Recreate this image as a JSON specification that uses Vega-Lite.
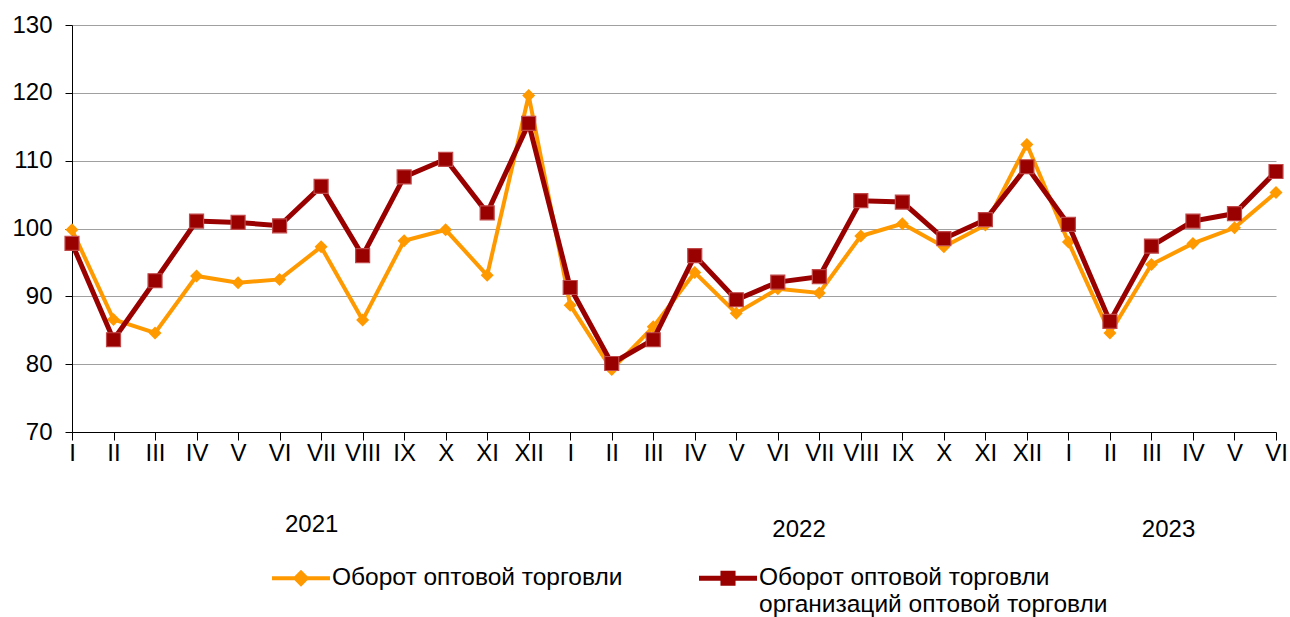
{
  "$schema": "https://vega.github.io/schema/vega-lite/v6.json",
  "width": 1204,
  "height": 407,
  "autosize": "none",
  "padding": {"left": 72, "top": 25, "right": 14, "bottom": 185},
  "background": "white",
  "config": {
    "view": {"stroke": null},
    "font": "Liberation Sans",
    "style": {"guide-label": {"lineHeight": 27}},
    "axis": {
      "labelFont": "Liberation Sans",
      "labelFontSize": 24,
      "labelColor": "black",
      "domainColor": "black",
      "tickColor": "black",
      "gridColor": "#a0a0a0",
      "gridWidth": 1.2
    },
    "legend": {
      "title": null,
      "orient": "none",
      "legendX": 200,
      "legendY": 524,
      "direction": "horizontal",
      "columns": 2,
      "columnPadding": 76,
      "symbolSize": 3364,
      "symbolStrokeWidth": 0,
      "symbolOpacity": 1,
      "labelFont": "Liberation Sans",
      "labelFontSize": 24.5,
      "labelColor": "black",
      "labelOffset": 2,
      "labelBaseline": "middle",
      "labelLimit": 0
    }
  },
  "data": {
    "values": [
      {"n": 0, "a": 99.8, "b": 97.8},
      {"n": 1, "a": 86.6, "b": 83.6},
      {"n": 2, "a": 84.6, "b": 92.3},
      {"n": 3, "a": 93.0, "b": 101.1},
      {"n": 4, "a": 92.0, "b": 100.9},
      {"n": 5, "a": 92.5, "b": 100.4},
      {"n": 6, "a": 97.3, "b": 106.2},
      {"n": 7, "a": 86.5, "b": 96.0},
      {"n": 8, "a": 98.2, "b": 107.6},
      {"n": 9, "a": 99.8, "b": 110.2},
      {"n": 10, "a": 93.1, "b": 102.3},
      {"n": 11, "a": 119.6, "b": 115.5},
      {"n": 12, "a": 88.7, "b": 91.3},
      {"n": 13, "a": 79.2, "b": 80.1},
      {"n": 14, "a": 85.5, "b": 83.6},
      {"n": 15, "a": 93.5, "b": 96.0},
      {"n": 16, "a": 87.5, "b": 89.5},
      {"n": 17, "a": 91.1, "b": 92.1},
      {"n": 18, "a": 90.5, "b": 92.9},
      {"n": 19, "a": 98.9, "b": 104.1},
      {"n": 20, "a": 100.7, "b": 103.9},
      {"n": 21, "a": 97.3, "b": 98.5},
      {"n": 22, "a": 100.5, "b": 101.3},
      {"n": 23, "a": 112.4, "b": 109.1},
      {"n": 24, "a": 98.0, "b": 100.6},
      {"n": 25, "a": 84.6, "b": 86.3},
      {"n": 26, "a": 94.7, "b": 97.4},
      {"n": 27, "a": 97.8, "b": 101.1},
      {"n": 28, "a": 100.1, "b": 102.2},
      {"n": 29, "a": 105.3, "b": 108.4}
    ]
  },
  "transform": [{"fold": ["a", "b"], "as": ["s", "v"]}],
  "resolve": {"axis": {"x": "independent"}},
  "layer": [
    {
      "transform": [{"filter": "datum.s == 'a'"}],
      "mark": {"type": "line", "strokeWidth": 4},
      "encoding": {
        "x": {
          "field": "n", "type": "quantitative",
          "scale": {"domain": [0, 29], "nice": false, "zero": false},
          "axis": {
            "orient": "bottom",
            "values": [0,1,2,3,4,5,6,7,8,9,10,11,12,13,14,15,16,17,18,19,20,21,22,23,24,25,26,27,28,29],
            "labelExpr": "['I','II','III','IV','V','VI','VII','VIII','IX','X','XI','XII'][datum.value % 12]",
            "title": null, "grid": false, "tickSize": 8, "labelPadding": 1,
            "labelFlush": false, "labelOverlap": false, "labelBound": false
          }
        },
        "y": {
          "field": "v", "type": "quantitative",
          "scale": {"domain": [70, 130], "nice": false, "zero": false},
          "axis": {
            "values": [70, 80, 90, 100, 110, 120, 130],
            "title": null, "grid": true, "tickSize": 7, "labelPadding": 13
          }
        },
        "color": {
          "field": "s", "type": "nominal",
          "scale": {"domain": ["a", "b"], "range": ["#FF9900", "#990000"]},
          "legend": {
            "labelExpr": "datum.value == 'a' ? ['Оборот оптовой торговли', ''] : ['Оборот оптовой торговли', 'организаций оптовой торговли']"
          }
        }
      }
    },
    {
      "transform": [{"filter": "datum.s == 'a'"}],
      "mark": {"type": "point", "shape": "diamond", "filled": true, "opacity": 1, "size": 169},
      "encoding": {
        "x": {
          "field": "n", "type": "quantitative",
          "axis": {
            "orient": "bottom",
            "values": [5.76, 17.5, 26.4],
            "labelExpr": "datum.value < 12 ? '2021' : datum.value < 24 ? '2022' : '2023'",
            "title": null, "grid": false, "ticks": false, "domain": false,
            "labelPadding": {"condition": {"test": "datum.value < 12", "value": 80}, "value": 85},
            "labelFlush": false, "labelOverlap": false, "labelBound": false
          }
        },
        "y": {"field": "v", "type": "quantitative"},
        "color": {"field": "s", "type": "nominal"}
      }
    },
    {
      "transform": [{"filter": "datum.s == 'b'"}],
      "mark": {"type": "line", "strokeWidth": 5},
      "encoding": {
        "x": {"field": "n", "type": "quantitative", "axis": null},
        "y": {"field": "v", "type": "quantitative"},
        "color": {"field": "s", "type": "nominal"}
      }
    },
    {
      "transform": [{"filter": "datum.s == 'b'"}],
      "mark": {"type": "point", "shape": "square", "filled": true, "opacity": 1, "size": 196, "stroke": "#C04848", "strokeWidth": 1.2},
      "encoding": {
        "x": {"field": "n", "type": "quantitative", "axis": null},
        "y": {"field": "v", "type": "quantitative"},
        "color": {"field": "s", "type": "nominal"}
      }
    },
    {
      "mark": {"type": "point", "filled": true, "size": 0, "opacity": 0},
      "encoding": {
        "x": {"field": "n", "type": "quantitative", "axis": null},
        "y": {"field": "v", "type": "quantitative"},
        "color": {"field": "s", "type": "nominal"},
        "shape": {
          "field": "s", "type": "nominal",
          "scale": {"domain": ["a", "b"], "range": ["M-1,-0.07H1V0.07H-1Z M0,-0.29L0.29,0L0,0.29L-0.29,0Z", "M-1,-0.085H1V0.085H-1Z M-0.26,-0.26H0.26V0.26H-0.26Z"]},
          "legend": {
            "labelExpr": "datum.value == 'a' ? ['Оборот оптовой торговли', ''] : ['Оборот оптовой торговли', 'организаций оптовой торговли']"
          }
        }
      }
    }
  ]
}
